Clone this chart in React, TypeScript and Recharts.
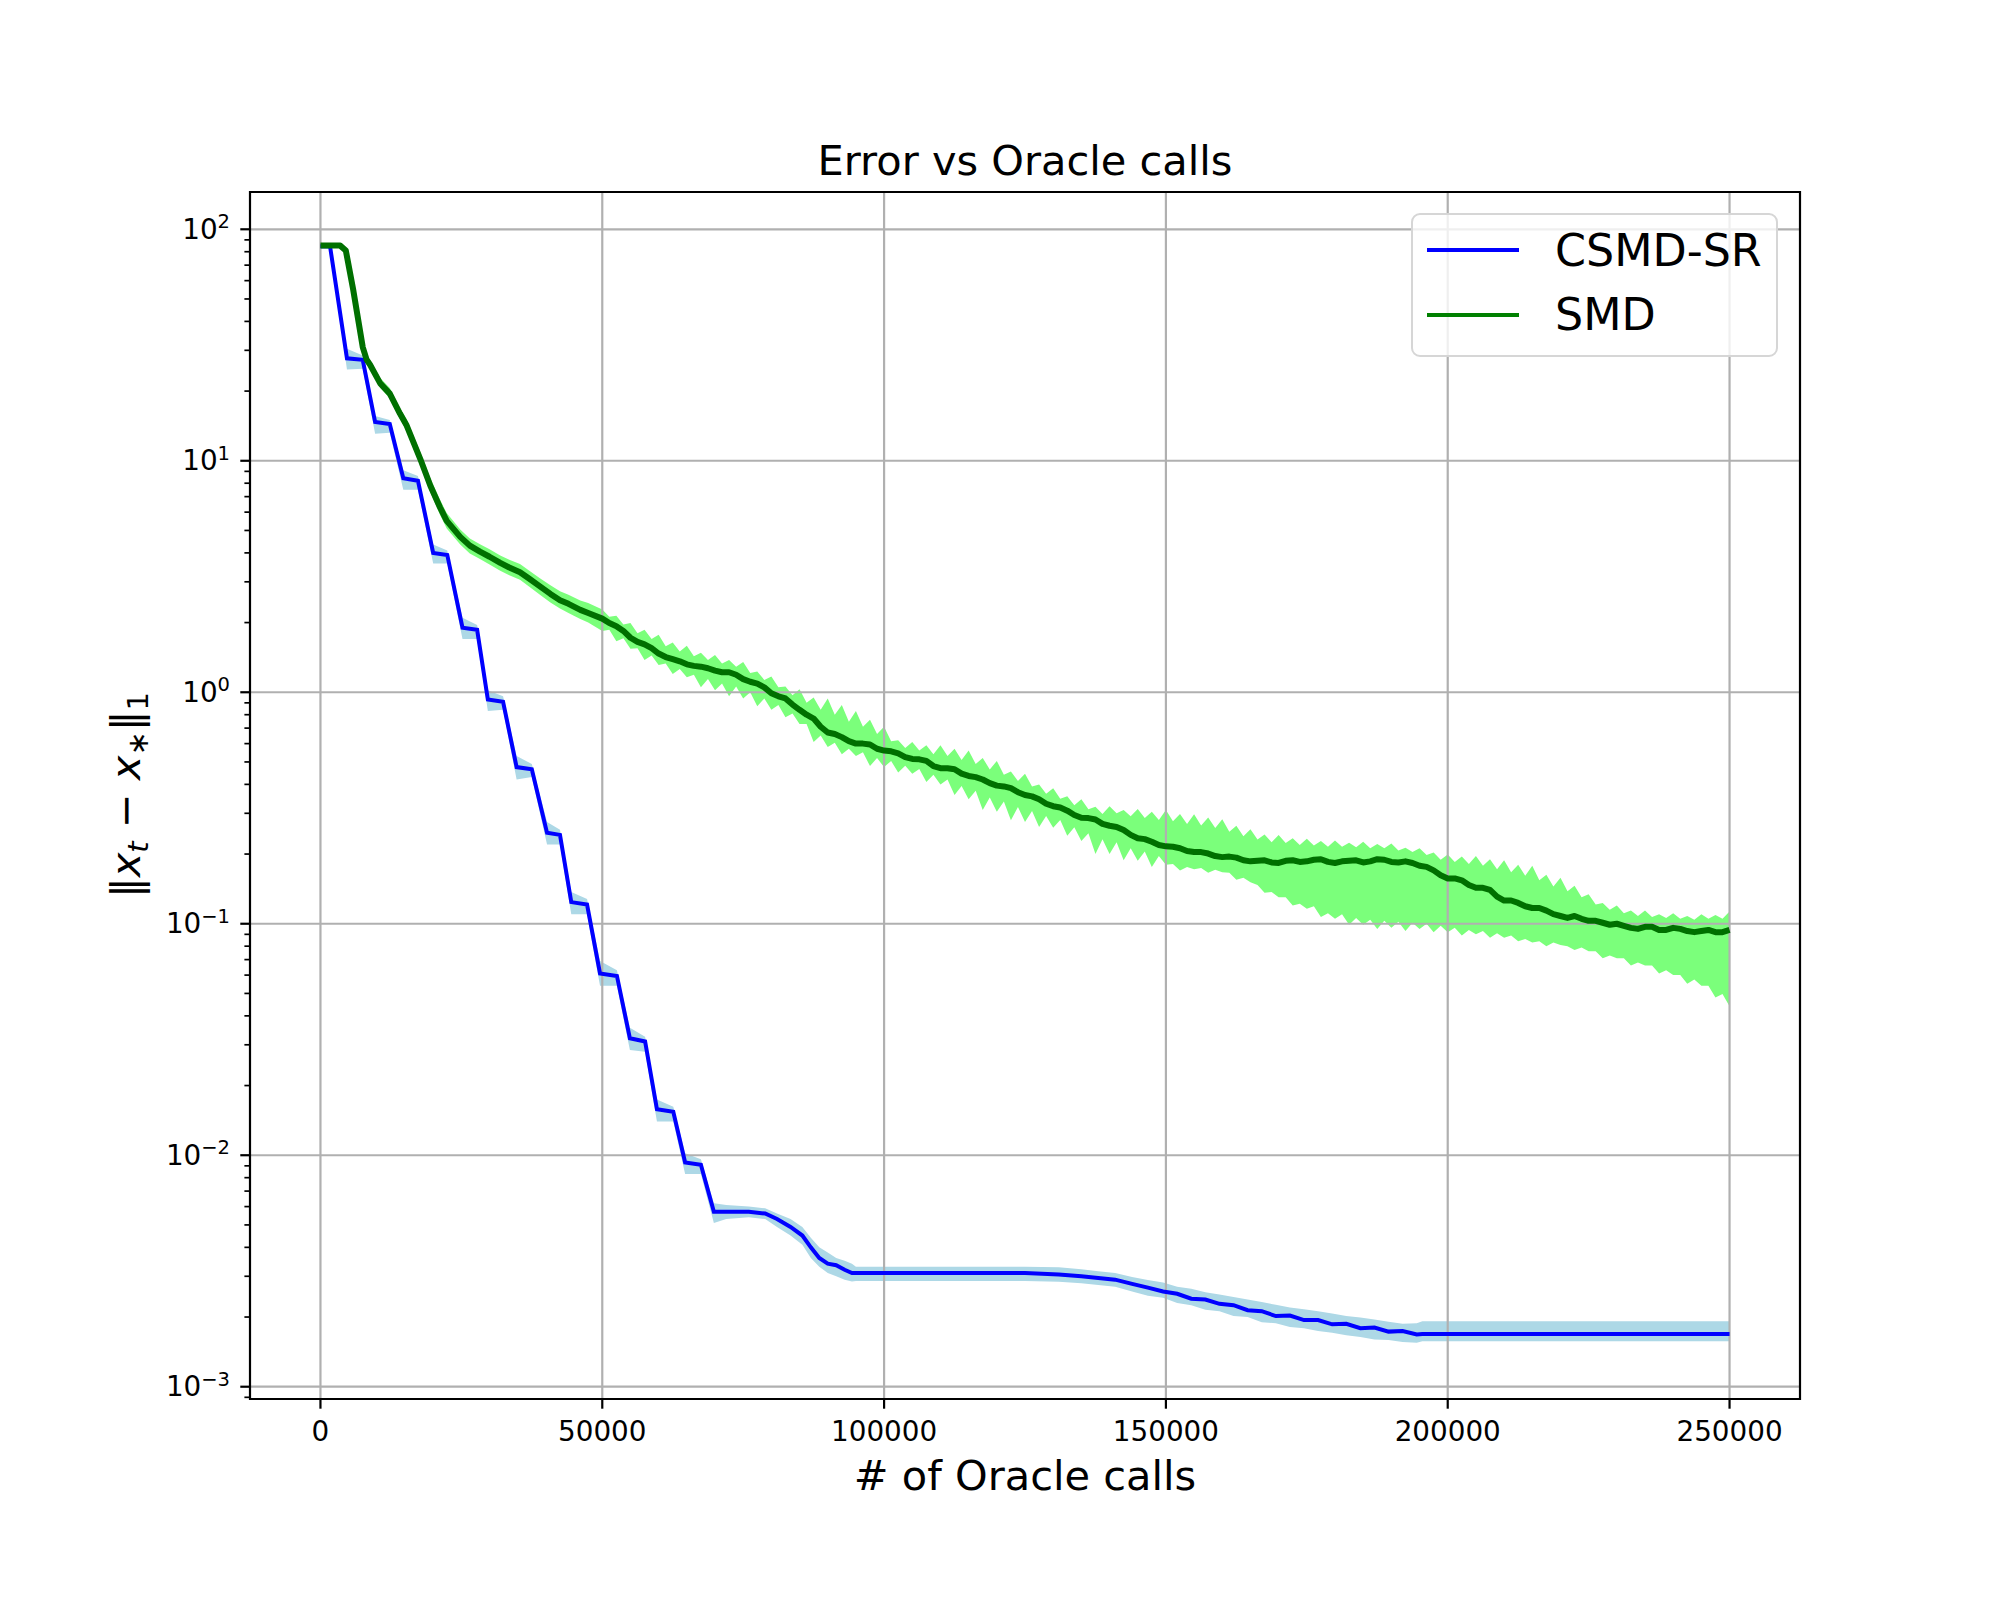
import React from 'react';
import {
  ComposedChart,
  Line,
  Area,
  XAxis,
  YAxis,
  ReferenceLine,
  ReferenceArea,
  Legend,
} from 'recharts';

const FONT = 'DejaVu Sans';

// ---- axes ----
const xDomain = [-12500, 262500];
const xTicks = [0, 50000, 100000, 150000, 200000, 250000];
const yDomain = [0.000885, 144.9];
const yMajor = [0.001, 0.01, 0.1, 1, 10, 100];
const yMajorExp = ['\u22123', '\u22122', '\u22121', '0', '1', '2'];
const yMinor = [
  0.0009,
  0.002, 0.003, 0.004, 0.005, 0.006, 0.007, 0.008, 0.009,
  0.02, 0.03, 0.04, 0.05, 0.06, 0.07, 0.08, 0.09,
  0.2, 0.3, 0.4, 0.5, 0.6, 0.7, 0.8, 0.9,
  2, 3, 4, 5, 6, 7, 8, 9,
  20, 30, 40, 50, 60, 70, 80, 90,
];

// ---- series names / colours ----
const seriesNames = ['CSMD-SR', 'SMD'];
const legendColors = ['#0000ff', '#008000'];

// ---- CSMD-SR ----
const csmdX = [
  0, 1700, 4700, 7500, 9700, 12300, 14700, 17300, 20000, 22500, 25200, 27800, 29700, 32400,
  34800, 37500, 40200, 42500, 44500, 47300, 49600, 52600, 54900, 57600, 59700, 62600, 64700,
  67500, 69800, 72000, 76000, 78900, 81000, 83400, 85500, 87000, 88500, 90000, 91500, 93000,
  94300, 95000, 110000, 125000, 131000, 135000, 138000, 141000, 144000, 146800, 149500, 152000,
  154500, 157000, 159500, 162000, 164500, 167000, 169500, 172000, 174500, 177000, 179500, 182000,
  184500, 187000, 189500, 192000, 194500, 195500, 250000,
];
const csmdMean = [
  84.5, 84.5, 27.7, 27.3, 14.7, 14.4, 8.4, 8.2, 4.0, 3.92, 1.9, 1.86, 0.93, 0.91,
  0.475, 0.465, 0.247, 0.242, 0.124, 0.121, 0.061, 0.0595, 0.032, 0.031, 0.0158, 0.0154, 0.0093,
  0.0091, 0.0057, 0.0057, 0.0057, 0.0056, 0.0053, 0.0049, 0.0045, 0.004, 0.0036, 0.0034, 0.00335, 0.0032,
  0.0031, 0.0031, 0.0031, 0.0031, 0.00305, 0.003, 0.00295, 0.0029, 0.00278, 0.00268, 0.00258, 0.00252,
  0.0024, 0.00238, 0.00228, 0.00225, 0.00214, 0.00212, 0.00202, 0.00203, 0.00194, 0.00194, 0.00186, 0.00187,
  0.00179, 0.0018, 0.00173, 0.00174, 0.00168, 0.00169, 0.00169,
];
const csmdLo = [
  82.5, 82.5, 24.8, 25.0, 13.1, 13.2, 7.5, 7.5, 3.6, 3.6, 1.7, 1.7, 0.83, 0.84,
  0.42, 0.43, 0.22, 0.22, 0.11, 0.11, 0.054, 0.054, 0.0285, 0.028, 0.014, 0.014, 0.0083,
  0.0083, 0.0051, 0.0053, 0.0054, 0.0053, 0.0049, 0.0045, 0.0041, 0.0036, 0.0033, 0.0031, 0.003, 0.0029,
  0.00285, 0.00286, 0.00286, 0.00286, 0.00284, 0.0028, 0.00275, 0.0027, 0.00258, 0.00247, 0.00242, 0.0023,
  0.00225, 0.00215, 0.00212, 0.00202, 0.002, 0.0019, 0.00188, 0.00181, 0.00179, 0.00174, 0.00171, 0.00167,
  0.00164, 0.0016, 0.00159, 0.00156, 0.00155, 0.00157, 0.00157,
];
const csmdHi = [
  86.5, 86.5, 30.5, 28.5, 15.6, 15.0, 9.1, 8.6, 4.35, 4.1, 2.1, 1.95, 1.02, 0.96,
  0.53, 0.49, 0.275, 0.255, 0.137, 0.128, 0.069, 0.063, 0.0355, 0.0325, 0.0174, 0.0162, 0.0102,
  0.0096, 0.0062, 0.0061, 0.006, 0.0059, 0.0056, 0.0053, 0.0049, 0.0044, 0.004, 0.0038, 0.0036, 0.0035,
  0.0034, 0.0033, 0.0033, 0.0033, 0.00328, 0.00322, 0.00315, 0.0031, 0.00298, 0.00289, 0.00282, 0.0027,
  0.00265, 0.00256, 0.0025, 0.00244, 0.00238, 0.00232, 0.00226, 0.0022, 0.00216, 0.00212, 0.00207, 0.00202,
  0.00199, 0.00195, 0.00191, 0.00187, 0.00188, 0.00192, 0.00192,
];

// ---- SMD ----
const smdX = [
  0, 3500, 4500, 5800, 7500, 8200, 8800, 10600, 12300, 14100, 15300, 17700, 19500, 21200, 22400,
  24800, 26500, 28300, 30000, 31900, 33500, 35400, 37000, 39000, 40800, 42500, 44000, 46100, 47500,
  50000, 51250, 52500, 53750, 55000, 56250, 57500, 58750,
  60000, 61250, 62500, 63750, 65000, 66250, 67500, 68750,
  70000, 71250, 72500, 73750, 75000, 76250, 77500, 78750,
  80000, 81250, 82500, 83750, 85000, 86250, 87500, 88750,
  90000, 91250, 92500, 93750, 95000, 96250, 97500, 98750,
  100000, 101250, 102500, 103750, 105000, 106250, 107500, 108750,
  110000, 111250, 112500, 113750, 115000, 116250, 117500, 118750,
  120000, 121250, 122500, 123750, 125000, 126250, 127500, 128750,
  130000, 131250, 132500, 133750, 135000, 136250, 137500, 138750,
  140000, 141250, 142500, 143750, 145000, 146250, 147500, 148750,
  150000, 151250, 152500, 153750, 155000, 156250, 157500, 158750,
  160000, 161250, 162500, 163750, 165000, 166250, 167500, 168750,
  170000, 171250, 172500, 173750, 175000, 176250, 177500, 178750,
  180000, 181250, 182500, 183750, 185000, 186250, 187500, 188750,
  190000, 191250, 192500, 193750, 195000, 196250, 197500, 198750,
  200000, 201250, 202500, 203750, 205000, 206250, 207500, 208750,
  210000, 211250, 212500, 213750, 215000, 216250, 217500, 218750,
  220000, 221250, 222500, 223750, 225000, 226250, 227500, 228750,
  230000, 231250, 232500, 233750, 235000, 236250, 237500, 238750,
  240000, 241250, 242500, 243750, 245000, 246250, 247500, 248750,
  250000,
];
const smdMean = [
  85, 85, 81, 55, 31, 27.3, 26, 21.6, 19.5, 16.0, 14.2, 10.2, 7.8, 6.3, 5.5,
  4.69, 4.3, 4.05, 3.85, 3.62, 3.46, 3.3, 3.1, 2.86, 2.66, 2.5, 2.41, 2.27, 2.2,
  2.08, 1.99, 1.93, 1.84, 1.72, 1.65, 1.61, 1.55,
  1.47, 1.42, 1.39, 1.36, 1.32, 1.30, 1.29, 1.27,
  1.24, 1.22, 1.22, 1.19, 1.14, 1.11, 1.09, 1.05,
  0.99, 0.96, 0.94, 0.885, 0.84, 0.80, 0.77, 0.71,
  0.67, 0.66, 0.64, 0.615, 0.60, 0.60, 0.595, 0.57,
  0.56, 0.556, 0.545, 0.525, 0.515, 0.513, 0.505, 0.48,
  0.47, 0.47, 0.465, 0.445, 0.435, 0.43, 0.42, 0.405,
  0.395, 0.392, 0.385, 0.37, 0.36, 0.355, 0.345, 0.33,
  0.322, 0.318, 0.308, 0.295, 0.287, 0.286, 0.282, 0.27,
  0.265, 0.262, 0.254, 0.242, 0.234, 0.232, 0.226, 0.219,
  0.216, 0.215, 0.212, 0.206, 0.204, 0.204, 0.201, 0.196,
  0.194, 0.195, 0.193, 0.188, 0.186, 0.187, 0.188, 0.184,
  0.183, 0.187, 0.188, 0.185, 0.186, 0.189, 0.19, 0.185,
  0.183, 0.186, 0.187, 0.188, 0.184, 0.186, 0.19, 0.189,
  0.185, 0.184, 0.186, 0.183, 0.178, 0.176, 0.17, 0.162,
  0.157, 0.157, 0.154, 0.147, 0.143, 0.143, 0.14, 0.131,
  0.126, 0.126, 0.123, 0.119, 0.117, 0.117, 0.114, 0.11,
  0.108, 0.106, 0.108, 0.105, 0.103, 0.103, 0.101, 0.099,
  0.1, 0.098, 0.096, 0.095, 0.097, 0.097, 0.094, 0.094,
  0.096, 0.095, 0.093, 0.092, 0.093, 0.094, 0.092, 0.092,
  0.094,
];
const smdLo = [
  84, 84, 79, 53, 29.8, 26.2, 25, 20.7, 18.6, 15.2, 13.4, 9.6, 7.3, 5.85, 5.1,
  4.35, 3.98, 3.76, 3.56, 3.35, 3.2, 3.06, 2.86, 2.63, 2.44, 2.3, 2.2, 2.07, 2.0,
  1.84, 1.86, 1.66, 1.71, 1.54, 1.55, 1.38, 1.44,
  1.31, 1.33, 1.20, 1.26, 1.16, 1.19, 1.05, 1.14,
  1.02, 1.09, 0.96, 1.06, 0.94, 1.00, 0.87, 0.94,
  0.84, 0.88, 0.78, 0.81, 0.73, 0.73, 0.61, 0.65,
  0.58, 0.605, 0.54, 0.57, 0.53, 0.55, 0.48, 0.52,
  0.475, 0.505, 0.45, 0.482, 0.445, 0.466, 0.41, 0.44,
  0.40, 0.42, 0.36, 0.394, 0.345, 0.375, 0.31, 0.351,
  0.305, 0.337, 0.28, 0.319, 0.275, 0.307, 0.262, 0.292,
  0.26, 0.281, 0.24, 0.261, 0.228, 0.246, 0.20, 0.232,
  0.20, 0.225, 0.188, 0.212, 0.187, 0.205, 0.176, 0.196,
  0.18, 0.181, 0.17, 0.176, 0.172, 0.174, 0.166, 0.171,
  0.167, 0.166, 0.155, 0.158, 0.151, 0.147, 0.136, 0.137,
  0.13, 0.13, 0.12, 0.122, 0.116, 0.119, 0.107, 0.111,
  0.105, 0.11, 0.099, 0.106, 0.099, 0.104, 0.095, 0.103,
  0.096, 0.102, 0.093, 0.101, 0.095, 0.1, 0.092, 0.098,
  0.092, 0.096, 0.089, 0.094, 0.09, 0.093, 0.087, 0.091,
  0.087, 0.089, 0.084, 0.086, 0.083, 0.084, 0.08, 0.083,
  0.081, 0.08, 0.077, 0.079, 0.076, 0.076, 0.071, 0.073,
  0.071, 0.071, 0.066, 0.068, 0.066, 0.066, 0.061, 0.063,
  0.06, 0.06, 0.055, 0.0575, 0.054, 0.054, 0.048, 0.0497,
  0.044,
];
const smdHi = [
  86, 86, 83.5, 57.5, 32.5, 28.6, 27.3, 22.8, 20.6, 16.9, 15.1, 10.9, 8.4, 6.8, 5.95,
  5.05, 4.62, 4.36, 4.15, 3.9, 3.74, 3.58, 3.36, 3.1, 2.9, 2.73, 2.64, 2.49, 2.43,
  2.28, 2.12, 2.14, 1.96, 1.99, 1.80, 1.86, 1.70,
  1.77, 1.58, 1.64, 1.50, 1.59, 1.43, 1.48, 1.38,
  1.45, 1.33, 1.38, 1.29, 1.35, 1.21, 1.23, 1.13,
  1.17, 1.05, 1.06, 0.97, 1.03, 0.90, 0.95, 0.84,
  0.94, 0.80, 0.88, 0.745, 0.83, 0.71, 0.76, 0.66,
  0.71, 0.615, 0.62, 0.575, 0.61, 0.56, 0.59, 0.54,
  0.59, 0.53, 0.57, 0.51, 0.56, 0.49, 0.52, 0.464,
  0.505, 0.44, 0.455, 0.414, 0.445, 0.392, 0.40, 0.364,
  0.385, 0.347, 0.355, 0.325, 0.345, 0.312, 0.32, 0.298,
  0.322, 0.30, 0.31, 0.291, 0.313, 0.286, 0.305, 0.281,
  0.31, 0.277, 0.298, 0.27, 0.297, 0.266, 0.288, 0.259,
  0.283, 0.25, 0.265, 0.239, 0.256, 0.231, 0.243, 0.225,
  0.242, 0.223, 0.234, 0.219, 0.233, 0.218, 0.228, 0.215,
  0.229, 0.215, 0.224, 0.214, 0.226, 0.212, 0.221, 0.212,
  0.222, 0.207, 0.213, 0.204, 0.212, 0.198, 0.203, 0.189,
  0.199, 0.185, 0.195, 0.181, 0.196, 0.178, 0.19, 0.172,
  0.188, 0.167, 0.18, 0.161, 0.178, 0.154, 0.163, 0.145,
  0.158, 0.138, 0.146, 0.13, 0.134, 0.121, 0.123, 0.115,
  0.12, 0.111, 0.114, 0.108, 0.114, 0.107, 0.11, 0.106,
  0.111, 0.105, 0.108, 0.104, 0.11, 0.105, 0.109, 0.105,
  0.113,
];

const csmdRows = csmdX.map((x, i) => ({ x, m: csmdMean[i], band: [csmdLo[i], csmdHi[i]] }));
const smdRows = smdX.map((x, i) => ({ x, m: smdMean[i], band: [smdLo[i], smdHi[i]] }));

const YTick = (props: any) => {
  const { x, y, payload } = props;
  const v = payload && payload.value;
  const mi = yMajor.findIndex((t) => Math.abs(t - v) < t * 1e-6);
  if (mi < 0) {
    return <line x1={x} x2={x - 5.6} y1={y} y2={y} stroke="#000" strokeWidth={1.7} />;
  }
  return (
    <g>
      <line x1={x} x2={x - 9.7} y1={y} y2={y} stroke="#000" strokeWidth={2.2} />
      <text x={x - 20} y={y} textAnchor="end" fontFamily={FONT} fontSize={27.8} fill="#000">
        <tspan dy={9.5}>10</tspan>
        <tspan fontSize={19.5} dy={-10.5}>{yMajorExp[mi]}</tspan>
      </text>
    </g>
  );
};

const LegendContent = () => (
  <svg width={367} height={144} style={{ display: 'block' }}>
    <rect x={1} y={1} width={365} height={142} rx={8} ry={8} fill="rgba(255,255,255,0.8)" stroke="#d6d6d6" strokeWidth={2} />
    {seriesNames.map((n, i) => (
      <g key={n}>
        <line x1={16} x2={108} y1={37 + 65 * i} y2={37 + 65 * i} stroke={legendColors[i]} strokeWidth={4.2} />
        <text x={144} y={53 + 64 * i} fontFamily={FONT} fontSize={44.4} fill="#000">
          {n}
        </text>
      </g>
    ))}
  </svg>
);

export default function App() {
  return (
    <div style={{ position: 'absolute', left: 0, top: 0, width: 2000, height: 1600, background: '#fff' }}>
      <ComposedChart width={2000} height={1600} margin={{ top: 192, right: 200, bottom: 0, left: 0 }}>
        <XAxis
          type="number"
          dataKey="x"
          domain={xDomain}
          ticks={xTicks}
          interval={0}
          allowDataOverflow
          height={201}
          stroke="#000"
          axisLine={false}
          tickLine={{ stroke: '#000', strokeWidth: 2.2 }}
          tickSize={9.7}
          tickMargin={13}
          tick={{ fontSize: 27.8, fill: '#000', fontFamily: FONT }}
        />
        <YAxis
          type="number"
          scale="log"
          domain={yDomain}
          allowDataOverflow
          ticks={[...yMajor, ...yMinor]}
          interval={0}
          width={250}
          axisLine={false}
          tickLine={false}
          tickSize={0}
          tickMargin={0}
          tick={(p: any) => <YTick {...p} />}
        />
        <Area
          data={csmdRows}
          dataKey="band"
          type="linear"
          stroke="none"
          fill="#add8e6"
          fillOpacity={1}
          dot={false}
          activeDot={false}
          legendType="none"
          isAnimationActive={false}
          zIndex={100}
        />
        <Area
          data={smdRows}
          dataKey="band"
          type="linear"
          stroke="none"
          fill="#7bff7b"
          fillOpacity={1}
          dot={false}
          activeDot={false}
          legendType="none"
          isAnimationActive={false}
          zIndex={100}
        />
        {xTicks.map((t) => (
          <ReferenceLine key={'gx' + t} x={t} stroke="#b0b0b0" strokeWidth={2.2} zIndex={150} />
        ))}
        {yMajor.map((t) => (
          <ReferenceLine key={'gy' + t} y={t} stroke="#b0b0b0" strokeWidth={2.2} zIndex={150} />
        ))}
        <Line
          data={csmdRows}
          dataKey="m"
          name={seriesNames[0]}
          type="linear"
          stroke="#0000ff"
          strokeWidth={4}
          dot={false}
          activeDot={false}
          isAnimationActive={false}
          zIndex={400}
        />
        <Line
          data={smdRows}
          dataKey="m"
          name={seriesNames[1]}
          type="linear"
          stroke="#007000"
          strokeWidth={6}
          strokeLinejoin="round"
          dot={false}
          activeDot={false}
          isAnimationActive={false}
          zIndex={400}
        />
        <ReferenceArea
          x1={xDomain[0]}
          x2={xDomain[1]}
          y1={yDomain[0]}
          y2={yDomain[1]}
          fill="none"
          fillOpacity={0}
          stroke="#000"
          strokeWidth={2.2}
          ifOverflow="visible"
          zIndex={600}
        />
        <Legend
          layout="horizontal"
          verticalAlign="middle"
          align="center"
          width={367}
          height={144}
          wrapperStyle={{ position: 'absolute', left: 1411, top: 213, width: 367, height: 144 }}
          content={LegendContent}
        />
      </ComposedChart>
      <svg
        width={2000}
        height={1600}
        style={{ position: 'absolute', left: 0, top: 0, pointerEvents: 'none' }}
      >
        <text x={1025} y={175} textAnchor="middle" fontFamily={FONT} fontSize={41.5} fill="#000">
          Error vs Oracle calls
        </text>
        <text x={1025} y={1490} textAnchor="middle" fontFamily={FONT} fontSize={41.5} fill="#000">
          # of Oracle calls
        </text>
        <text transform="translate(140,795) rotate(-90)" textAnchor="middle" fontFamily={FONT} fontSize={41.5} fill="#000">
          {'\u2016'}
          <tspan fontStyle="italic">x</tspan>
          <tspan fontStyle="italic" fontSize={29} dy={8}>t</tspan>
          <tspan dy={-8}>{' \u2212 '}</tspan>
          <tspan fontStyle="italic">x</tspan>
          <tspan fontSize={29} dy={8}>{'\u2217'}</tspan>
          <tspan dy={-8}>{'\u2016'}</tspan>
          <tspan fontSize={29} dy={8}>1</tspan>
        </text>
      </svg>
    </div>
  );
}
